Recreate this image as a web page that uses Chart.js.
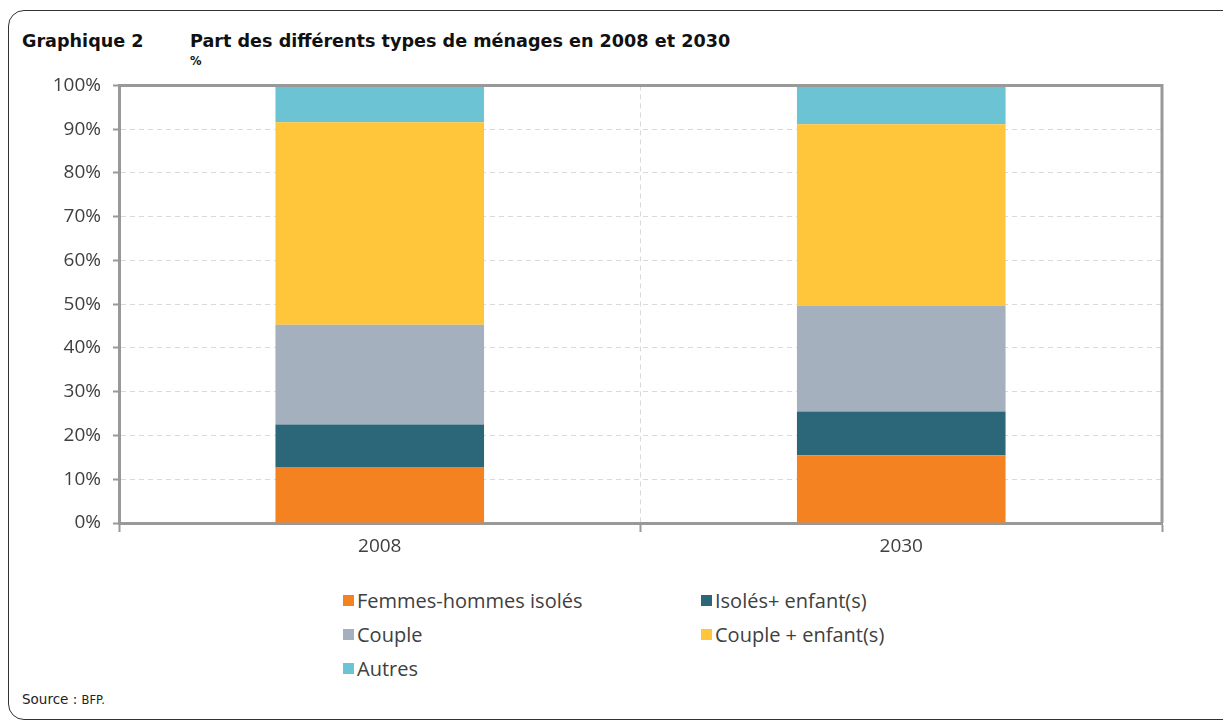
<!DOCTYPE html>
<html>
<head>
<meta charset="utf-8">
<script src="https://cdn.jsdelivr.net/npm/chart.js@4/dist/chart.umd.min.js"></script>
<style>
  html, body { margin: 0; padding: 0; background: #fff; }
  body { width: 1223px; height: 722px; position: relative; overflow: hidden; }
  #frame { position: absolute; left: 8px; top: 10px; width: 1300px; height: 710px;
           border: 1px solid #333; border-radius: 16px; box-sizing: border-box; }
  .title { position: absolute; font-family: "DejaVu Sans", sans-serif; font-weight: bold;
           font-size: 17.6px; color: #111; top: 31px; white-space: nowrap; }
  #unit { position: absolute; left: 190px; top: 54px; font-family: "DejaVu Sans", sans-serif;
          font-weight: bold; font-size: 11.5px; color: #111; }
  #box { position: absolute; left: 0; top: 62px; width: 1223px; height: 502px; }
  #legend { position: absolute; left: 343px; top: 583px; display: grid;
            grid-template-columns: 358px 200px; grid-auto-rows: 34px;
            font-family: "Open Sans", sans-serif; font-size: 20px; color: #404040; }
  #legend div { display: flex; align-items: center; white-space: nowrap; }
  #legend span.sw { display: inline-block; width: 11px; height: 11px; margin-right: 3px; }
  #source { position: absolute; left: 22px; top: 691px; font-family: "DejaVu Sans", sans-serif;
            font-size: 13.5px; color: #222; }
  #source small { font-size: 11.5px; }
</style>
</head>
<body>
<div id="frame"></div>
<div class="title" style="left:22px">Graphique 2</div>
<div class="title" style="left:190px">Part des différents types de ménages en 2008 et 2030</div>
<div id="unit">%</div>
<div id="box"><canvas id="chart"></canvas></div>
<div id="legend"></div>
<div id="source">Source : <small>BFP.</small></div>
<script>
// values, in %
const categories = ['2008', '2030'];
const seriesNames = ['Femmes-hommes isolés', 'Isolés+ enfant(s)', 'Couple', 'Couple + enfant(s)', 'Autres'];
const femmesHommesIsoles = [12.8, 15.5];
const isolesEnfants = [9.7, 10.0];
const couple = [22.8, 24.2];
const coupleEnfants = [46.3, 41.4];
const autres = [8.4, 8.9];
const seriesColors = ['#F58220', '#2C6679', '#A5B0BE', '#FFC63C', '#6CC3D3'];

const seriesValues = [femmesHommesIsoles, isolesEnfants, couple, coupleEnfants, autres];

// frame on top and right of the plot area
const plotFrame = {
  id: 'plotFrame',
  afterDraw(chart) {
    const { ctx, chartArea: a } = chart;
    ctx.save();
    ctx.strokeStyle = '#999';
    ctx.lineWidth = 3;
    ctx.beginPath();
    ctx.moveTo(a.left, a.top);
    ctx.lineTo(a.right, a.top);
    ctx.lineTo(a.right, a.bottom);
    ctx.stroke();
    ctx.restore();
  }
};

const ctx = document.getElementById('chart').getContext('2d');
new Chart(ctx, {
  type: 'bar',
  data: {
    labels: categories,
    datasets: seriesNames.map((name, i) => ({
      label: name,
      data: seriesValues[i],
      backgroundColor: seriesColors[i],
      borderWidth: 0,
      categoryPercentage: 0.4,
      barPercentage: 1.0,
    })),
  },
  options: {
    responsive: true,
    maintainAspectRatio: false,
    animation: false,
    layout: { padding: { top: 10, right: 61, left: 0, bottom: 0 } },
    plugins: { legend: { display: false }, tooltip: { enabled: false } },
    scales: {
      x: {
        stacked: true,
        afterFit: (s) => { s.height = 41; },
        grid: {
          offset: true,
          color: '#d9d9d9',
          lineWidth: 1,
          tickLength: 9,
          tickColor: '#999',
          tickWidth: 2,
        },
        border: { color: '#999', width: 3, dash: [5, 4] },
        ticks: { color: '#404040', padding: 3, font: { family: 'Open Sans', size: 19 } },
      },
      y: {
        stacked: true,
        min: 0,
        max: 100,
        afterFit: (s) => { s.width = 119; },
        grid: {
          color: (c) => (c.tick && (c.tick.value === 0 || c.tick.value === 100)) ? 'rgba(0,0,0,0)' : '#d9d9d9',
          lineWidth: 1,
          tickLength: 6,
          tickColor: '#999',
          tickWidth: 2,
        },
        border: { color: '#999', width: 3, dash: [5, 4] },
        ticks: {
          stepSize: 10,
          color: '#404040',
          padding: 12,
          font: { family: 'Open Sans', size: 19 },
          callback: (v) => v + '%',
        },
      },
    },
  },
  plugins: [plotFrame],
});

// legend in two columns, as in the reference
const legend = document.getElementById('legend');
seriesNames.forEach((name, i) => {
  const item = document.createElement('div');
  item.innerHTML = '<span class="sw" style="background:' + seriesColors[i] + '"></span>' + name;
  legend.appendChild(item);
});
</script>
</body>
</html>
